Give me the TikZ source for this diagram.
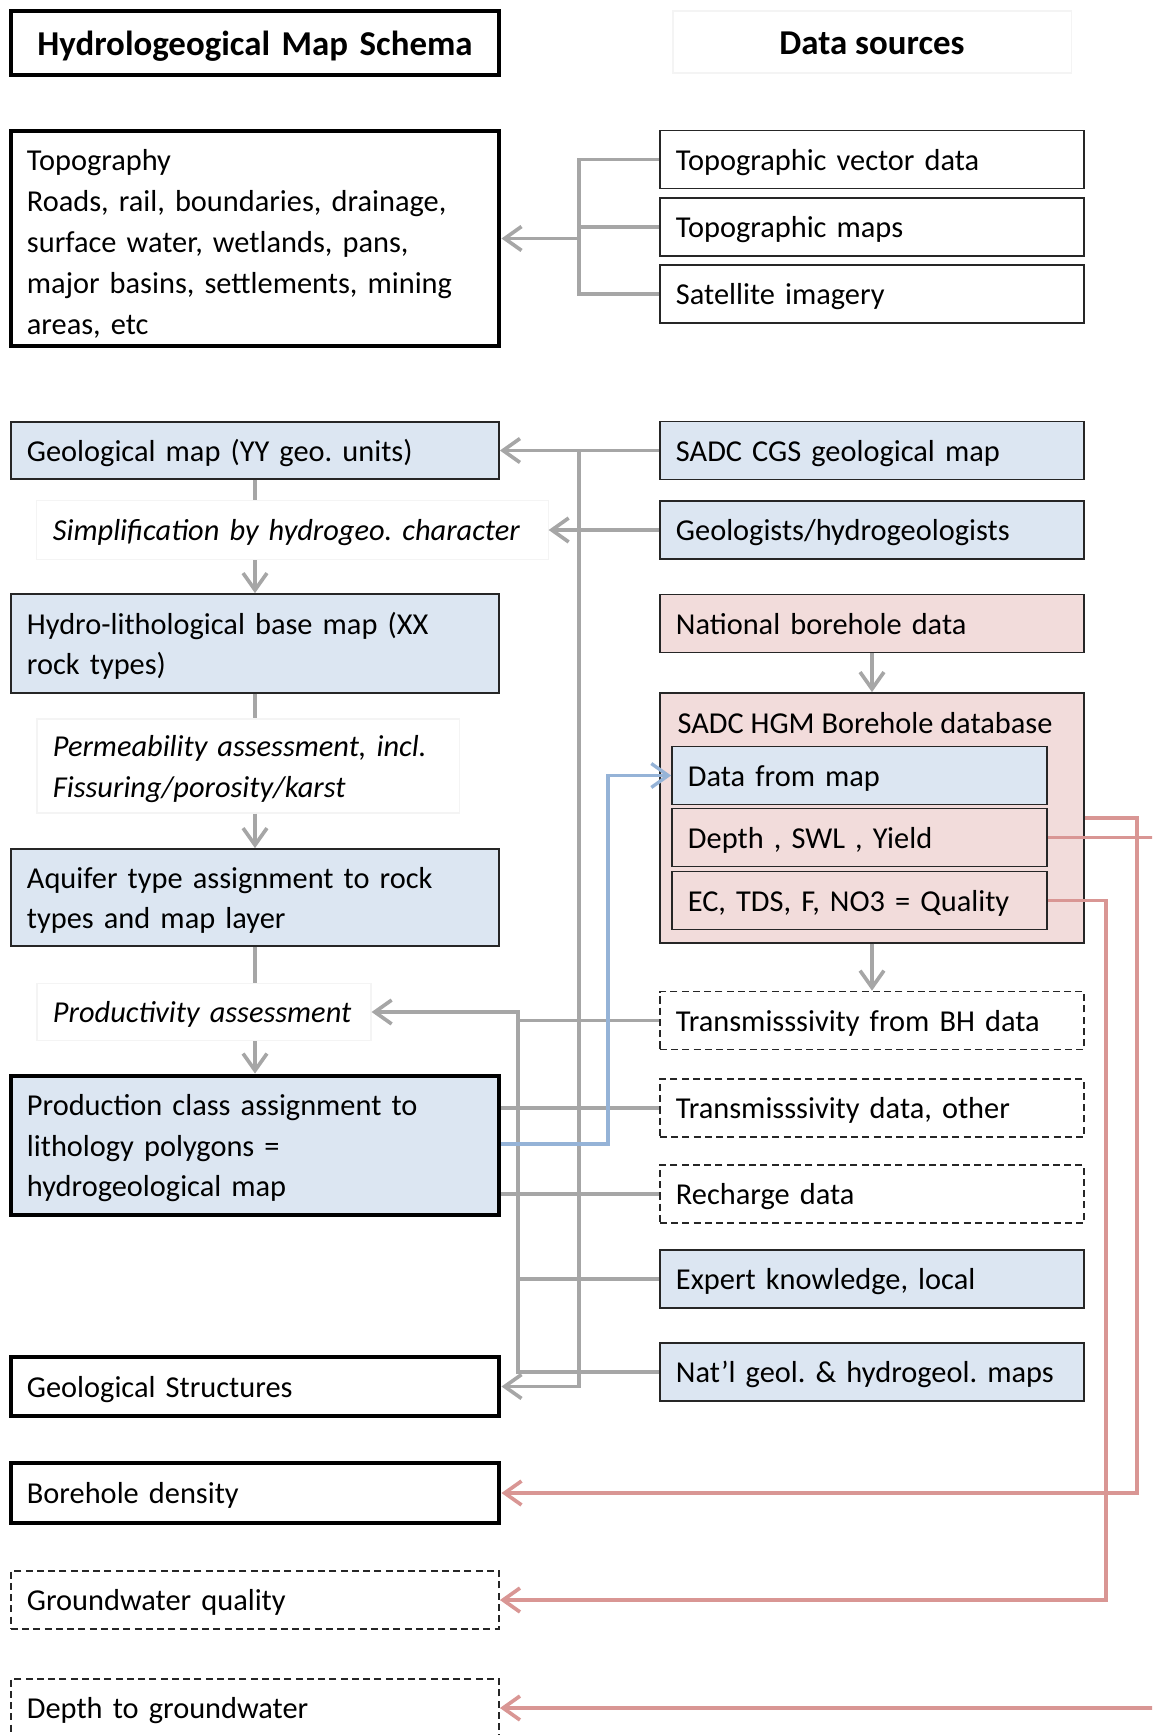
\documentclass[tikz,border=0pt]{standalone}
\usepackage{fontspec}
\setmainfont{Carlito}
\usepackage{tikz}
\usetikzlibrary{arrows.meta, positioning, calc}
\frenchspacing
\hyphenpenalty=10000

\definecolor{geoblue}{HTML}{DCE6F2}
\definecolor{bhpink}{HTML}{F2DCDB}
\definecolor{linegrey}{HTML}{A6A6A6}
\definecolor{lineblue}{HTML}{95B3D7}
\definecolor{linepink}{HTML}{D99694}
\definecolor{faint}{HTML}{F4F4F4}

\begin{document}
\begin{tikzpicture}[x=0.0125cm, y=-0.0125cm,
  >={Straight Barb[length=6pt,width=8.5pt]},
  every node/.style={font=\fontsize{10.8}{14.4}\selectfont},
  lbox/.style={rectangle, draw=black!85, line width=0.6pt, minimum width=6.1cm, text width=5.7cm, inner xsep=0.2cm, align=left, text height=8.6pt, text depth=0.8pt},
  rbox/.style={rectangle, draw=black!85, line width=0.6pt, minimum width=5.3cm, text width=4.9cm, inner xsep=0.2cm, align=left, minimum height=0.725cm, text height=8.6pt, text depth=0.8pt},
  heavy/.style={draw=black, line width=1.7pt},
  dashbox/.style={dash pattern=on 2.5pt off 1.5pt},
  note/.style={rectangle, draw=faint, line width=0.4pt, inner xsep=0.2cm, align=left, text height=8.6pt, text depth=0.8pt, font=\fontsize{10.8}{14.4}\selectfont\itshape},
  heading/.style={font=\fontsize{12.4}{15}\selectfont\bfseries, align=center, text height=9.6pt, text depth=0.8pt},
  conn/.style={draw=linegrey, line width=1.3pt},
  bconn/.style={draw=lineblue, line width=1.2pt},
  pconn/.style={draw=linepink, line width=1.3pt}]
\path[use as bounding box] (0,0) rectangle (1152,1735);
\clip (0,0) rectangle (1152,1735);

% Headings
\node[lbox, heavy, heading, minimum height=0.8cm] (schema) at (255,43) {Hydrologeogical Map Schema};
\node[draw=faint, heading, minimum width=4.975cm, minimum height=0.775cm] (sources) at (872,42) {Data sources};

% Map schema column
\node[lbox, heavy, minimum height=2.6875cm, text height=10.6pt, text depth=59pt, font=\fontsize{10.8}{14.6}\selectfont] (topo) at (255,238.5) {Topography\\Roads, rail, boundaries, drainage,\\surface water, wetlands, pans,\\major basins, settlements, mining\\areas, etc};
\node[lbox, fill=geoblue, minimum height=0.7125cm] (geomap) at (255,450.5) {Geological map (YY geo. units)};
\node[note, minimum width=6.3875cm, text width=5.9875cm, minimum height=0.7375cm] (simpl) at (292.5,530) {Simplification by hydrogeo. character};
\node[lbox, fill=geoblue, minimum height=1.2375cm, text depth=15.2pt] (hydro) at (255,643.5) {Hydro-lithological base map (XX\\rock types)};
\node[note, minimum width=5.275cm, text width=4.875cm, minimum height=1.175cm, text depth=15.2pt] (perm) at (248,766) {Permeability assessment, incl.\\Fissuring/porosity/karst};
\node[lbox, fill=geoblue, minimum height=1.2125cm, text depth=15.2pt] (aquifer) at (255,897.5) {Aquifer type assignment to rock\\types and map layer};
\node[note, minimum width=4.175cm, text width=3.775cm, minimum height=0.7125cm] (prod) at (204,1012) {Productivity assessment};
\node[lbox, heavy, fill=geoblue, minimum height=1.7375cm, text depth=29.6pt] (prodclass) at (255,1145.5) {Production class assignment to\\lithology polygons =\\hydrogeological map};
\node[lbox, heavy, minimum height=0.7375cm] (geostruct) at (255,1386.5) {Geological Structures};
\node[lbox, heavy, minimum height=0.75cm] (bhdens) at (255,1493) {Borehole density};
\node[lbox, dashbox, minimum height=0.725cm] (gwqual) at (255,1600) {Groundwater quality};
\node[lbox, dashbox, minimum height=0.725cm] (depthgw) at (255,1708) {Depth to groundwater};

% Data sources column
\node[rbox] (topovec) at (872,159.5) {Topographic vector data};
\node[rbox] (topomaps) at (872,227) {Topographic maps};
\node[rbox] (satimg) at (872,294) {Satellite imagery};
\node[rbox, fill=geoblue] (sadccgs) at (872,450.5) {SADC CGS geological map};
\node[rbox, fill=geoblue] (geologists) at (872,530) {Geologists/hydrogeologists};
\node[rbox, fill=bhpink] (natbh) at (872,623.5) {National borehole data};
\node[rbox, fill=bhpink, minimum height=3.125cm] (hgm) at (872,818) {};
\node[anchor=west, inner sep=0pt] (hgmlabel) at (677,723) {SADC HGM Borehole database};
\node[rbox, fill=geoblue, minimum width=4.6875cm, text width=4.2875cm] (datamap) at (859.5,775.5) {Data from map};
\node[rbox, fill=bhpink, minimum width=4.6875cm, text width=4.2875cm] (dsy) at (859.5,837.5) {Depth , SWL , Yield};
\node[rbox, fill=bhpink, minimum width=4.6875cm, text width=4.2875cm] (quality) at (859.5,900.5) {EC, TDS, F, NO3 = Quality};
\node[rbox, dashbox] (transbh) at (872,1020.5) {Transmisssivity from BH data};
\node[rbox, dashbox] (transoth) at (872,1108) {Transmisssivity data, other};
\node[rbox, dashbox] (recharge) at (872,1194) {Recharge data};
\node[rbox, fill=geoblue] (expert) at (872,1279) {Expert knowledge, local};
\node[rbox, fill=geoblue] (natmaps) at (872,1372) {Nat’l geol. \& hydrogeol. maps};

% Schema chain
\draw[conn] (geomap.south) -- (geomap.south |- simpl.north);
\draw[conn, ->] (geomap.south |- simpl.south) -- (hydro.north);
\draw[conn] (hydro.south) -- (hydro.south |- perm.north);
\draw[conn, ->] (hydro.south |- perm.south) -- (aquifer.north);
\draw[conn] (aquifer.south) -- (aquifer.south |- prod.north);
\draw[conn, ->] (aquifer.south |- prod.south) -- (prodclass.north);

% Topographic sources
\coordinate (topobus) at (579,238.5);
\draw[conn] (topovec.west) -| (topobus);
\draw[conn] (satimg.west) -| (topobus);
\draw[conn] (topomaps.west) -- (topomaps.west -| topobus);
\draw[conn, ->] (topobus) -- (topo.east);

% Geological sources
\coordinate (geobus) at (579,450.5);
\draw[conn, ->] (sadccgs.west) -- (geomap.east);
\draw[conn, ->] (geobus) |- (geostruct.east);
\draw[conn, ->] (geologists.west) -- (simpl.east);

% Borehole chain
\draw[conn, ->] (natbh) -- (hgm);
\draw[conn, ->] (hgm) -- (transbh);

% Productivity sources
\coordinate (prodbus) at (518,1012);
\draw[conn, ->] (natmaps.west) -| (prodbus) -- (prod.east);
\draw[conn] (transbh.west) -- (transbh.west -| prodbus);
\draw[conn] (transoth.west) -- (transoth.west -| prodclass.east);
\draw[conn] (recharge.west) -- (recharge.west -| prodclass.east);
\draw[conn] (expert.west) -- (expert.west -| prodbus);

% Map back into database
\coordinate (bluebus) at (608,1144);
\draw[bconn, ->] (prodclass.east |- bluebus) -- (bluebus) |- (datamap.west);

% Borehole outputs
\coordinate (pinkA) at (1137,818);
\draw[pconn, ->] (hgm.east |- pinkA) -- (pinkA) |- (bhdens.east);
\coordinate (pinkB) at (1106,900.5);
\draw[pconn, ->] (quality.east) -- (pinkB) |- (gwqual.east);
\coordinate (pinkC) at (1170,837.5);
\draw[pconn, ->] (dsy.east) -- (pinkC) |- (depthgw.east);
\end{tikzpicture}
\end{document}
